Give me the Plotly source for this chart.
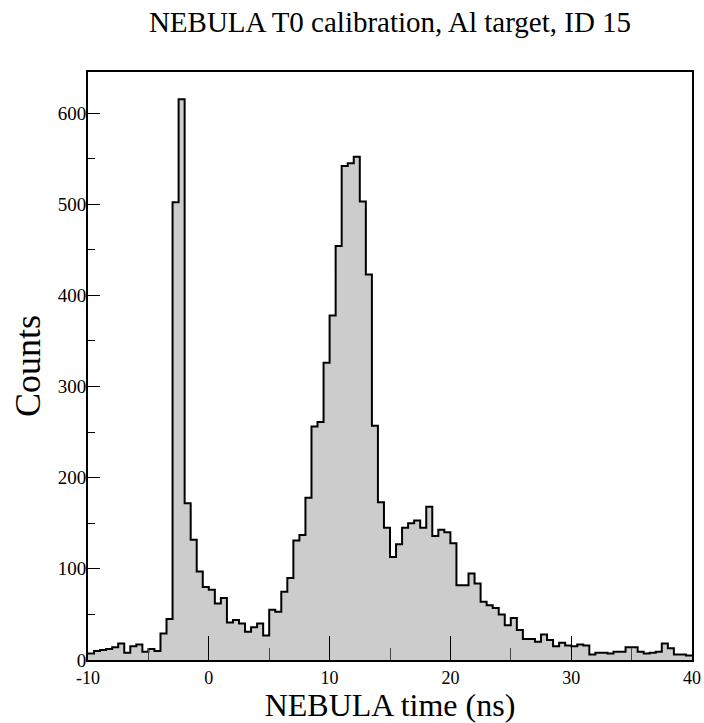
import numpy as np
import plotly.graph_objects as go

# Histogram: NEBULA time (ns), bins of 0.5 ns from -10 to 40
x_start = -10.0
bin_width = 0.5
counts = [
    7, 10, 11, 12, 14, 18, 8, 15, 17, 9,            # -10 .. -5.5
    12, 10, 29, 45, 502, 615, 172, 132, 97, 80,     # -5 .. -0.5
    77, 62, 68, 41, 44, 40, 31, 36, 40, 27,         # 0 .. 4.5
    55, 53, 75, 90, 131, 137, 178, 256, 261, 326,   # 5 .. 9.5
    378, 454, 542, 545, 552, 503, 423, 257, 173, 145,  # 10 .. 14.5
    113, 127, 145, 150, 153, 145, 168, 136, 143, 140,  # 15 .. 19.5
    128, 82, 82, 95, 84, 64, 60, 57, 50, 38,        # 20 .. 24.5
    46, 33, 23, 23, 20, 28, 22, 15, 19, 16,         # 25 .. 29.5
    15, 17, 16, 6, 8, 8, 7, 9, 9, 14,               # 30 .. 34.5
    14, 9, 7, 8, 9, 18, 13, 6, 6, 5,                # 35 .. 39.5
]

x_tickvals = [-10, 0, 10, 20, 30, 40]
x_ticktext = ["-10", "0", "10", "20", "30", "40"]
x_minor_vals = [-5, 5, 15, 25, 35]
y_tickvals = [0, 100, 200, 300, 400, 500, 600]
y_ticktext = ["0", "100", "200", "300", "400", "500", "600"]

edges = x_start + bin_width * np.arange(len(counts) + 1)
step_y = counts + [counts[-1]]

FONT = "Liberation Serif, Times New Roman, serif"

fig = go.Figure()
fig.add_trace(go.Scatter(
    x=edges, y=step_y,
    mode="lines",
    line=dict(shape="hv", color="black", width=2),
    fill="tozeroy",
    fillcolor="#cccccc",
    hoverinfo="skip",
    showlegend=False,
))

fig.update_layout(
    width=704, height=723,
    margin=dict(l=88, r=12, t=72, b=63, autoexpand=False),
    paper_bgcolor="white", plot_bgcolor="white",
    font=dict(family=FONT, color="black"),
    title=dict(
        text="NEBULA T0 calibration, Al target, ID 15",
        font=dict(family=FONT, size=29, color="black"),
        x=0.5, xref="paper", xanchor="center",
        y=1 - 22 / 723, yref="container", yanchor="middle",
    ),
    showlegend=False,
)

fig.update_xaxes(
    range=[-10, 40],
    automargin=False,
    showgrid=False, zeroline=False,
    showline=True, mirror=True, linecolor="black", linewidth=2,
    tickmode="array", tickvals=x_tickvals, ticktext=x_ticktext,
    ticks="inside", ticklen=24, tickwidth=1, tickcolor="black",
    tickfont=dict(family=FONT, size=18, color="black"),
    minor=dict(tickmode="array", tickvals=x_minor_vals, ticks="inside",
               ticklen=12, tickwidth=1, tickcolor="#444444"),
    title=dict(text="NEBULA time (ns)", font=dict(family=FONT, size=32, color="black"),
               standoff=4),
)

fig.update_yaxes(
    range=[0, 645],
    automargin=False,
    showgrid=False, zeroline=False,
    showline=True, mirror=True, linecolor="black", linewidth=2,
    tickmode="array", tickvals=y_tickvals, ticktext=y_ticktext,
    ticks="inside", ticklen=12, tickwidth=1, tickcolor="black",
    tickfont=dict(family=FONT, size=19, color="black"),
    ticklabelstandoff=-4,
    minor=dict(dtick=50, tick0=0, ticks="inside", ticklen=7, tickwidth=1, tickcolor="black"),
    title=dict(text="Counts", font=dict(family=FONT, size=36, color="black"),
               standoff=6),
)

fig.write_html("out.html",
               config={"displayModeBar": False},
               post_script="document.body.style.margin='0';document.body.style.padding='0';")
